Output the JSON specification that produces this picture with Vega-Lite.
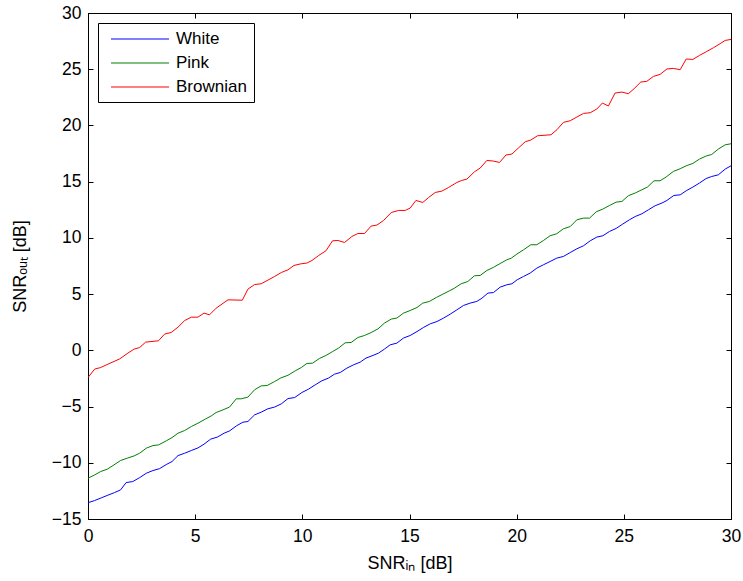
{
  "$schema": "https://vega.github.io/schema/vega-lite/v6.json",
  "width": 643,
  "height": 506,
  "autosize": {"type": "none"},
  "padding": {"left": 88, "top": 13, "right": 12, "bottom": 62},
  "background": "white",
  "config": {
    "view": {"stroke": "black", "strokeWidth": 1},
    "font": "Liberation Sans",
    "axis": {
      "grid": false,
      "domainColor": "black",
      "domainWidth": 1,
      "tickColor": "black",
      "tickWidth": 1,
      "tickSize": -5,
      "labelFont": "Liberation Sans",
      "labelFontSize": 17.5,
      "labelColor": "black",
      "titleFont": "Liberation Sans",
      "titleFontSize": 18,
      "titleFontWeight": "normal",
      "titleColor": "black"
    }
  },
  "datasets": {
    "d": [
      {"x":0,"y":-13.55,"s":"White"},{"x":0.31,"y":-13.36,"s":"White"},{"x":0.62,"y":-13.12,"s":"White"},{"x":0.93,"y":-12.88,"s":"White"},{"x":1.24,"y":-12.65,"s":"White"},{"x":1.52,"y":-12.41,"s":"White"},{"x":1.78,"y":-11.76,"s":"White"},{"x":2.09,"y":-11.67,"s":"White"},{"x":2.41,"y":-11.32,"s":"White"},{"x":2.72,"y":-10.93,"s":"White"},{"x":3.03,"y":-10.69,"s":"White"},{"x":3.34,"y":-10.52,"s":"White"},{"x":3.65,"y":-10.16,"s":"White"},{"x":3.92,"y":-9.89,"s":"White"},{"x":4.2,"y":-9.36,"s":"White"},{"x":4.51,"y":-9.15,"s":"White"},{"x":4.82,"y":-8.91,"s":"White"},{"x":5.13,"y":-8.68,"s":"White"},{"x":5.41,"y":-8.35,"s":"White"},{"x":5.72,"y":-7.9,"s":"White"},{"x":6.03,"y":-7.72,"s":"White"},{"x":6.35,"y":-7.37,"s":"White"},{"x":6.61,"y":-7.16,"s":"White"},{"x":6.92,"y":-6.72,"s":"White"},{"x":7.23,"y":-6.39,"s":"White"},{"x":7.46,"y":-6.33,"s":"White"},{"x":7.77,"y":-5.74,"s":"White"},{"x":8.08,"y":-5.5,"s":"White"},{"x":8.39,"y":-5.2,"s":"White"},{"x":8.7,"y":-5.05,"s":"White"},{"x":9.02,"y":-4.76,"s":"White"},{"x":9.33,"y":-4.29,"s":"White"},{"x":9.64,"y":-4.2,"s":"White"},{"x":9.98,"y":-3.75,"s":"White"},{"x":10.29,"y":-3.45,"s":"White"},{"x":10.6,"y":-3.07,"s":"White"},{"x":10.91,"y":-2.71,"s":"White"},{"x":11.22,"y":-2.47,"s":"White"},{"x":11.5,"y":-2.12,"s":"White"},{"x":11.77,"y":-1.97,"s":"White"},{"x":12.08,"y":-1.58,"s":"White"},{"x":12.39,"y":-1.29,"s":"White"},{"x":12.7,"y":-1.05,"s":"White"},{"x":12.97,"y":-0.69,"s":"White"},{"x":13.25,"y":-0.49,"s":"White"},{"x":13.55,"y":-0.25,"s":"White"},{"x":13.83,"y":0.11,"s":"White"},{"x":14.1,"y":0.49,"s":"White"},{"x":14.41,"y":0.64,"s":"White"},{"x":14.72,"y":1.09,"s":"White"},{"x":15.03,"y":1.32,"s":"White"},{"x":15.35,"y":1.67,"s":"White"},{"x":15.65,"y":2.03,"s":"White"},{"x":15.97,"y":2.36,"s":"White"},{"x":16.28,"y":2.56,"s":"White"},{"x":16.59,"y":2.87,"s":"White"},{"x":16.9,"y":3.22,"s":"White"},{"x":17.21,"y":3.6,"s":"White"},{"x":17.52,"y":3.99,"s":"White"},{"x":17.83,"y":4.2,"s":"White"},{"x":18.14,"y":4.35,"s":"White"},{"x":18.38,"y":4.64,"s":"White"},{"x":18.66,"y":5.09,"s":"White"},{"x":18.92,"y":5.14,"s":"White"},{"x":19.23,"y":5.62,"s":"White"},{"x":19.54,"y":5.83,"s":"White"},{"x":19.78,"y":5.92,"s":"White"},{"x":20.02,"y":6.27,"s":"White"},{"x":20.32,"y":6.57,"s":"White"},{"x":20.63,"y":6.87,"s":"White"},{"x":20.94,"y":7.31,"s":"White"},{"x":21.25,"y":7.61,"s":"White"},{"x":21.56,"y":7.9,"s":"White"},{"x":21.87,"y":8.2,"s":"White"},{"x":22.18,"y":8.35,"s":"White"},{"x":22.5,"y":8.7,"s":"White"},{"x":22.81,"y":9.03,"s":"White"},{"x":23.12,"y":9.3,"s":"White"},{"x":23.43,"y":9.74,"s":"White"},{"x":23.74,"y":10.07,"s":"White"},{"x":24.02,"y":10.19,"s":"White"},{"x":24.33,"y":10.57,"s":"White"},{"x":24.64,"y":10.84,"s":"White"},{"x":24.95,"y":11.23,"s":"White"},{"x":25.26,"y":11.61,"s":"White"},{"x":25.53,"y":11.9,"s":"White"},{"x":25.84,"y":12.14,"s":"White"},{"x":26.15,"y":12.5,"s":"White"},{"x":26.46,"y":12.86,"s":"White"},{"x":26.78,"y":13.1,"s":"White"},{"x":27.01,"y":13.33,"s":"White"},{"x":27.33,"y":13.77,"s":"White"},{"x":27.63,"y":13.83,"s":"White"},{"x":27.91,"y":14.19,"s":"White"},{"x":28.22,"y":14.52,"s":"White"},{"x":28.53,"y":14.88,"s":"White"},{"x":28.84,"y":15.28,"s":"White"},{"x":29.1,"y":15.46,"s":"White"},{"x":29.41,"y":15.61,"s":"White"},{"x":29.73,"y":16.12,"s":"White"},{"x":30,"y":16.41,"s":"White"},
      {"x":0,"y":-11.37,"s":"Pink"},{"x":0.31,"y":-11.08,"s":"Pink"},{"x":0.59,"y":-10.78,"s":"Pink"},{"x":0.9,"y":-10.57,"s":"Pink"},{"x":1.21,"y":-10.19,"s":"Pink"},{"x":1.52,"y":-9.8,"s":"Pink"},{"x":1.83,"y":-9.59,"s":"Pink"},{"x":2.15,"y":-9.39,"s":"Pink"},{"x":2.41,"y":-9.15,"s":"Pink"},{"x":2.72,"y":-8.7,"s":"Pink"},{"x":3.03,"y":-8.47,"s":"Pink"},{"x":3.29,"y":-8.41,"s":"Pink"},{"x":3.65,"y":-8.05,"s":"Pink"},{"x":3.92,"y":-7.76,"s":"Pink"},{"x":4.2,"y":-7.37,"s":"Pink"},{"x":4.51,"y":-7.13,"s":"Pink"},{"x":4.82,"y":-6.78,"s":"Pink"},{"x":5.13,"y":-6.48,"s":"Pink"},{"x":5.47,"y":-6.12,"s":"Pink"},{"x":5.75,"y":-5.83,"s":"Pink"},{"x":5.98,"y":-5.53,"s":"Pink"},{"x":6.3,"y":-5.29,"s":"Pink"},{"x":6.6,"y":-5.05,"s":"Pink"},{"x":6.92,"y":-4.31,"s":"Pink"},{"x":7.15,"y":-4.31,"s":"Pink"},{"x":7.46,"y":-4.16,"s":"Pink"},{"x":7.77,"y":-3.51,"s":"Pink"},{"x":8.08,"y":-3.16,"s":"Pink"},{"x":8.36,"y":-3.13,"s":"Pink"},{"x":8.7,"y":-2.78,"s":"Pink"},{"x":9.0,"y":-2.45,"s":"Pink"},{"x":9.33,"y":-2.22,"s":"Pink"},{"x":9.67,"y":-1.82,"s":"Pink"},{"x":9.95,"y":-1.53,"s":"Pink"},{"x":10.21,"y":-1.17,"s":"Pink"},{"x":10.48,"y":-1.14,"s":"Pink"},{"x":10.79,"y":-0.73,"s":"Pink"},{"x":11.1,"y":-0.46,"s":"Pink"},{"x":11.41,"y":-0.11,"s":"Pink"},{"x":11.69,"y":0.2,"s":"Pink"},{"x":12.0,"y":0.67,"s":"Pink"},{"x":12.28,"y":0.7,"s":"Pink"},{"x":12.59,"y":1.14,"s":"Pink"},{"x":12.9,"y":1.32,"s":"Pink"},{"x":13.21,"y":1.58,"s":"Pink"},{"x":13.53,"y":1.91,"s":"Pink"},{"x":13.83,"y":2.42,"s":"Pink"},{"x":14.15,"y":2.78,"s":"Pink"},{"x":14.41,"y":2.87,"s":"Pink"},{"x":14.72,"y":3.31,"s":"Pink"},{"x":15.03,"y":3.54,"s":"Pink"},{"x":15.35,"y":3.81,"s":"Pink"},{"x":15.62,"y":4.2,"s":"Pink"},{"x":15.93,"y":4.35,"s":"Pink"},{"x":16.25,"y":4.7,"s":"Pink"},{"x":16.56,"y":5.0,"s":"Pink"},{"x":16.87,"y":5.3,"s":"Pink"},{"x":17.1,"y":5.53,"s":"Pink"},{"x":17.41,"y":5.92,"s":"Pink"},{"x":17.72,"y":6.12,"s":"Pink"},{"x":18.03,"y":6.63,"s":"Pink"},{"x":18.3,"y":6.66,"s":"Pink"},{"x":18.61,"y":7.1,"s":"Pink"},{"x":18.92,"y":7.38,"s":"Pink"},{"x":19.23,"y":7.72,"s":"Pink"},{"x":19.54,"y":8.05,"s":"Pink"},{"x":19.75,"y":8.2,"s":"Pink"},{"x":20.01,"y":8.56,"s":"Pink"},{"x":20.32,"y":8.94,"s":"Pink"},{"x":20.66,"y":9.39,"s":"Pink"},{"x":20.94,"y":9.39,"s":"Pink"},{"x":21.25,"y":9.77,"s":"Pink"},{"x":21.56,"y":10.19,"s":"Pink"},{"x":21.87,"y":10.37,"s":"Pink"},{"x":22.18,"y":10.81,"s":"Pink"},{"x":22.5,"y":11.01,"s":"Pink"},{"x":22.81,"y":11.61,"s":"Pink"},{"x":23.12,"y":11.76,"s":"Pink"},{"x":23.4,"y":11.76,"s":"Pink"},{"x":23.71,"y":12.32,"s":"Pink"},{"x":24.02,"y":12.56,"s":"Pink"},{"x":24.33,"y":12.88,"s":"Pink"},{"x":24.64,"y":13.18,"s":"Pink"},{"x":24.91,"y":13.24,"s":"Pink"},{"x":25.21,"y":13.75,"s":"Pink"},{"x":25.53,"y":13.99,"s":"Pink"},{"x":25.84,"y":14.28,"s":"Pink"},{"x":26.1,"y":14.52,"s":"Pink"},{"x":26.41,"y":15.08,"s":"Pink"},{"x":26.69,"y":15.08,"s":"Pink"},{"x":26.97,"y":15.41,"s":"Pink"},{"x":27.31,"y":15.91,"s":"Pink"},{"x":27.63,"y":16.15,"s":"Pink"},{"x":27.91,"y":16.41,"s":"Pink"},{"x":28.22,"y":16.62,"s":"Pink"},{"x":28.53,"y":17.01,"s":"Pink"},{"x":28.84,"y":17.28,"s":"Pink"},{"x":29.1,"y":17.42,"s":"Pink"},{"x":29.41,"y":17.9,"s":"Pink"},{"x":29.73,"y":18.28,"s":"Pink"},{"x":30,"y":18.37,"s":"Pink"},
      {"x":0,"y":-2.42,"s":"Brownian"},{"x":0.31,"y":-1.67,"s":"Brownian"},{"x":0.59,"y":-1.53,"s":"Brownian"},{"x":0.93,"y":-1.23,"s":"Brownian"},{"x":1.48,"y":-0.76,"s":"Brownian"},{"x":1.86,"y":-0.25,"s":"Brownian"},{"x":2.14,"y":0.1,"s":"Brownian"},{"x":2.41,"y":0.25,"s":"Brownian"},{"x":2.69,"y":0.73,"s":"Brownian"},{"x":3.29,"y":0.85,"s":"Brownian"},{"x":3.57,"y":1.44,"s":"Brownian"},{"x":3.88,"y":1.59,"s":"Brownian"},{"x":4.2,"y":2.06,"s":"Brownian"},{"x":4.51,"y":2.65,"s":"Brownian"},{"x":4.82,"y":2.95,"s":"Brownian"},{"x":5.13,"y":2.95,"s":"Brownian"},{"x":5.41,"y":3.31,"s":"Brownian"},{"x":5.67,"y":3.16,"s":"Brownian"},{"x":5.98,"y":3.75,"s":"Brownian"},{"x":6.53,"y":4.49,"s":"Brownian"},{"x":7.2,"y":4.46,"s":"Brownian"},{"x":7.46,"y":5.44,"s":"Brownian"},{"x":7.77,"y":5.85,"s":"Brownian"},{"x":8.08,"y":5.92,"s":"Brownian"},{"x":8.4,"y":6.25,"s":"Brownian"},{"x":8.71,"y":6.57,"s":"Brownian"},{"x":9.02,"y":6.92,"s":"Brownian"},{"x":9.33,"y":7.16,"s":"Brownian"},{"x":9.61,"y":7.55,"s":"Brownian"},{"x":9.95,"y":7.7,"s":"Brownian"},{"x":10.21,"y":7.76,"s":"Brownian"},{"x":10.45,"y":7.99,"s":"Brownian"},{"x":10.76,"y":8.43,"s":"Brownian"},{"x":11.1,"y":8.85,"s":"Brownian"},{"x":11.41,"y":9.74,"s":"Brownian"},{"x":11.66,"y":9.77,"s":"Brownian"},{"x":11.97,"y":9.59,"s":"Brownian"},{"x":12.31,"y":10.12,"s":"Brownian"},{"x":12.59,"y":10.39,"s":"Brownian"},{"x":12.9,"y":10.39,"s":"Brownian"},{"x":13.21,"y":11.05,"s":"Brownian"},{"x":13.48,"y":11.14,"s":"Brownian"},{"x":13.79,"y":11.55,"s":"Brownian"},{"x":14.15,"y":12.26,"s":"Brownian"},{"x":14.49,"y":12.44,"s":"Brownian"},{"x":14.8,"y":12.44,"s":"Brownian"},{"x":15.03,"y":12.65,"s":"Brownian"},{"x":15.3,"y":13.33,"s":"Brownian"},{"x":15.62,"y":13.15,"s":"Brownian"},{"x":15.89,"y":13.59,"s":"Brownian"},{"x":16.2,"y":14.04,"s":"Brownian"},{"x":16.51,"y":14.16,"s":"Brownian"},{"x":16.82,"y":14.48,"s":"Brownian"},{"x":17.21,"y":14.93,"s":"Brownian"},{"x":17.44,"y":15.11,"s":"Brownian"},{"x":17.68,"y":15.23,"s":"Brownian"},{"x":18.03,"y":15.88,"s":"Brownian"},{"x":18.3,"y":16.21,"s":"Brownian"},{"x":18.61,"y":16.89,"s":"Brownian"},{"x":18.92,"y":16.83,"s":"Brownian"},{"x":19.2,"y":16.71,"s":"Brownian"},{"x":19.5,"y":17.37,"s":"Brownian"},{"x":19.78,"y":17.46,"s":"Brownian"},{"x":20.08,"y":17.99,"s":"Brownian"},{"x":20.4,"y":18.55,"s":"Brownian"},{"x":20.66,"y":18.7,"s":"Brownian"},{"x":20.97,"y":19.08,"s":"Brownian"},{"x":21.6,"y":19.17,"s":"Brownian"},{"x":21.88,"y":19.62,"s":"Brownian"},{"x":22.18,"y":20.27,"s":"Brownian"},{"x":22.5,"y":20.42,"s":"Brownian"},{"x":22.81,"y":20.75,"s":"Brownian"},{"x":23.12,"y":21.07,"s":"Brownian"},{"x":23.43,"y":21.13,"s":"Brownian"},{"x":23.74,"y":21.46,"s":"Brownian"},{"x":24.0,"y":21.99,"s":"Brownian"},{"x":24.28,"y":21.73,"s":"Brownian"},{"x":24.59,"y":22.88,"s":"Brownian"},{"x":24.91,"y":22.97,"s":"Brownian"},{"x":25.21,"y":22.82,"s":"Brownian"},{"x":25.48,"y":23.27,"s":"Brownian"},{"x":25.79,"y":23.86,"s":"Brownian"},{"x":26.07,"y":23.92,"s":"Brownian"},{"x":26.38,"y":24.36,"s":"Brownian"},{"x":26.69,"y":24.54,"s":"Brownian"},{"x":27.01,"y":25.02,"s":"Brownian"},{"x":27.31,"y":25.07,"s":"Brownian"},{"x":27.63,"y":24.96,"s":"Brownian"},{"x":27.91,"y":25.91,"s":"Brownian"},{"x":28.22,"y":25.87,"s":"Brownian"},{"x":28.53,"y":26.23,"s":"Brownian"},{"x":28.87,"y":26.58,"s":"Brownian"},{"x":29.18,"y":26.91,"s":"Brownian"},{"x":29.49,"y":27.27,"s":"Brownian"},{"x":29.73,"y":27.56,"s":"Brownian"},{"x":30,"y":27.65,"s":"Brownian"}
    ]
  },
  "data": {"name": "d"},
  "layer": [
    {
      "mark": {"type": "line", "opacity": 0},
      "encoding": {
        "x": {"field": "x", "type": "quantitative", "scale": {"domain": [0, 30], "nice": false, "zero": false},
              "axis": {"orient": "top", "values": [0, 5, 10, 15, 20, 25, 30], "labels": false, "title": null}},
        "y": {"field": "y", "type": "quantitative", "scale": {"domain": [-15, 30], "nice": false, "zero": false},
              "axis": {"orient": "right", "values": [-15, -10, -5, 0, 5, 10, 15, 20, 25, 30], "labels": false, "title": null}},
        "detail": {"field": "s"}
      }
    },
    {
      "mark": {"type": "line", "strokeWidth": 1, "clip": true},
      "encoding": {
        "x": {"field": "x", "type": "quantitative",
              "axis": {"orient": "bottom", "values": [0, 5, 10, 15, 20, 25, 30], "title": "SNRᵢₙ [dB]", "labelPadding": 13, "titlePadding": 10, "labelFlush": false}},
        "y": {"field": "y", "type": "quantitative",
              "axis": {"orient": "left", "values": [-15, -10, -5, 0, 5, 10, 15, 20, 25, 30], "title": "SNRₒᵤₜ [dB]", "labelPadding": 12, "titlePadding": 22, "labelFlush": false}},
        "color": {"field": "s", "type": "nominal",
                  "scale": {"domain": ["White", "Pink", "Brownian"], "range": ["#0000ff", "#008000", "#ff0000"]},
                  "legend": {"orient": "none", "legendX": 10, "legendY": 10, "title": null,
                             "strokeColor": "black", "fillColor": "white", "padding": 7,
                             "symbolType": "M-0.36,0H6.64", "symbolSize": 275, "symbolStrokeWidth": 1,
                             "labelFont": "Liberation Sans", "labelFontSize": 17, "labelColor": "black",
                             "labelOffset": 53, "rowPadding": 7}}
      }
    }
  ],
  "resolve": {"axis": {"x": "independent", "y": "independent"}}
}
